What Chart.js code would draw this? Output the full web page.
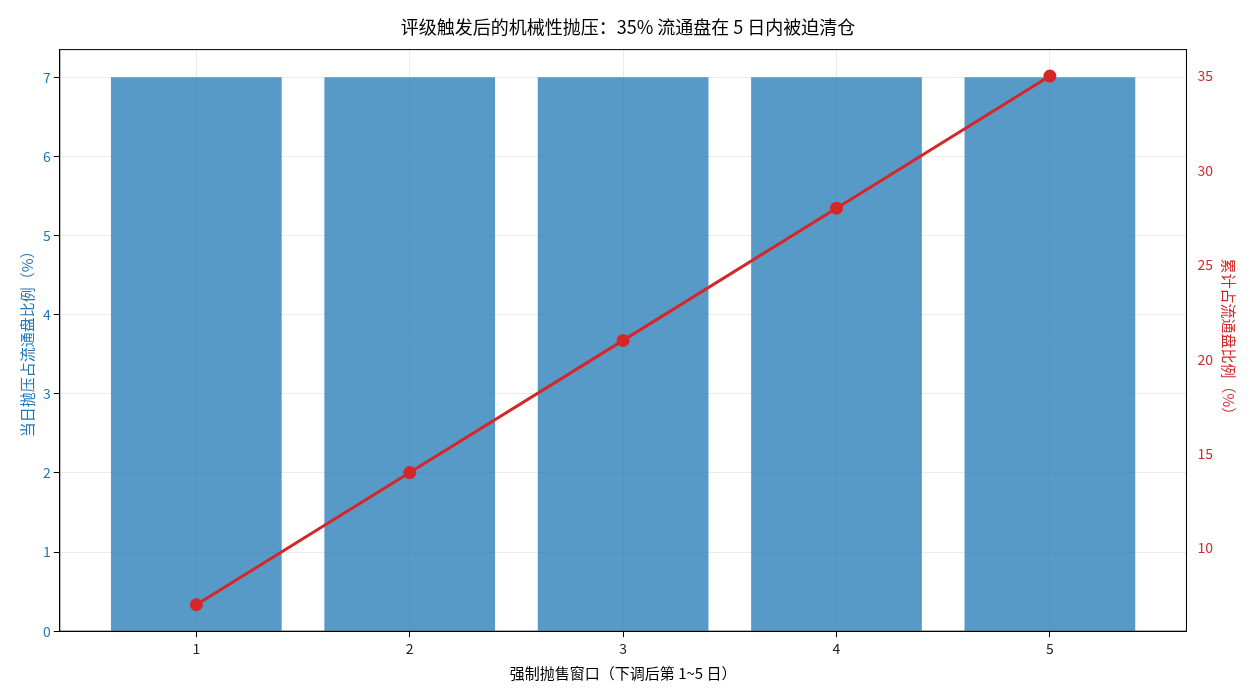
<!DOCTYPE html>
<html><head><meta charset="utf-8">
<script src="https://cdn.jsdelivr.net/npm/chart.js@4"></script>
<style>body{margin:0;background:#fff}#w{width:1260px;height:700px}</style>
</head><body><div id="w"><canvas id="c"></canvas></div>
<script>
const days = [1, 2, 3, 4, 5];
const dailyPct = [7, 7, 7, 7, 7];
const cumulativePct = [7, 14, 21, 28, 35];
const title = '评级触发后的机械性抛压：35% 流通盘在 5 日内被迫清仓';
const F = '"Noto Sans CJK SC", sans-serif';
Chart.defaults.font.family = F;
const box = { id: 'box', afterDraw(c) { const a = c.chartArea, x = c.ctx; x.save(); x.strokeStyle = '#000'; x.lineWidth = 1;
  x.strokeRect(a.left, a.top, a.right - a.left, a.bottom - a.top); x.restore(); } };
new Chart(document.getElementById('c'), {
  data: {
    datasets: [
      { type: 'line', data: days.map((d,i)=>({x:d,y:cumulativePct[i]})), yAxisID: 'y2',
        borderColor: '#d62728', backgroundColor: '#d62728', borderWidth: 3,
        pointRadius: 5, pointHoverRadius: 5, order: 0 },
      { type: 'bar', data: days.map((d,i)=>({x:d,y:dailyPct[i]})), yAxisID: 'y',
        backgroundColor: 'rgba(31,119,180,0.75)', categoryPercentage: 0.8, barPercentage: 1, order: 1 }
    ]
  },
  options: {
    responsive: true, maintainAspectRatio: false, animation: false,
    layout: { padding: { left: 14, right: 18, top: 8, bottom: 14 } },
    plugins: { legend: { display: false }, tooltip: { enabled: false },
      title: { display: true, text: title, color: '#000', font: { size: 18, weight: 'normal' }, padding: { top: 8, bottom: 12 } } },
    scales: {
      x: { type: 'linear', offset: false, min: 0.36, max: 5.64, afterBuildTicks: a => { a.ticks = days.map(v=>({value:v})); },
        ticks: { color: '#222', font: { size: 14 } },
        grid: { offset: false, color: 'rgba(0,0,0,0.08)', tickColor: '#000', tickLength: 6 },
        border: { color: '#000' },
        title: { display: true, text: '强制抛售窗口（下调后第 1~5 日）', color: '#000', font: { size: 15 } } },
      y: { position: 'left', min: 0, max: 7.35, afterBuildTicks: a => { a.ticks = [0,1,2,3,4,5,6,7].map(v=>({value:v})); },
        ticks: { color: '#1f77b4', font: { size: 14 } },
        grid: { color: 'rgba(0,0,0,0.08)', tickColor: '#000', tickLength: 6 }, border: { color: '#000' },
        title: { display: true, text: '当日抛压占流通盘比例（%）', color: '#1f77b4', font: { size: 15 } } },
      y2: { position: 'right', min: 5.6, max: 36.4, afterBuildTicks: a => { a.ticks = [10,15,20,25,30,35].map(v=>({value:v})); },
        ticks: { color: '#d62728', font: { size: 14 } },
        grid: { display: false, tickColor: '#000' }, border: { color: '#000' },
        title: { display: true, text: '累计占流通盘比例（%）', color: '#d62728', font: { size: 15 } } }
    }
  },
  plugins: [box]
});
</script></body></html>
